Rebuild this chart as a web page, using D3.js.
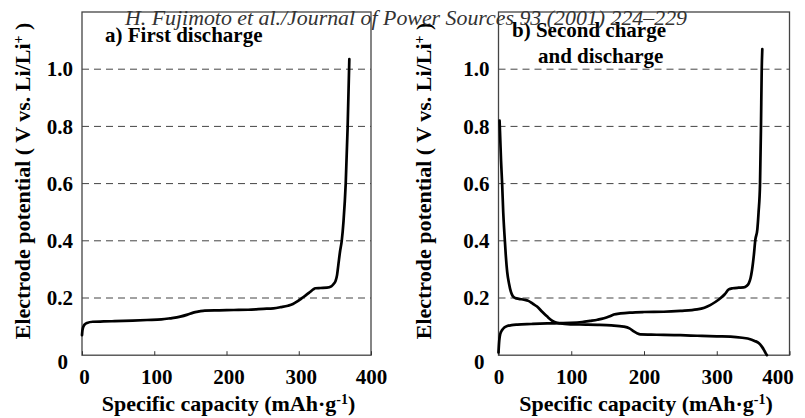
<!DOCTYPE html>
<html>
<head>
<meta charset="utf-8">
<script src="https://cdn.jsdelivr.net/npm/d3@7/dist/d3.min.js"></script>
<style>
  html, body { margin: 0; padding: 0; background: #fff; }
  svg { display: block; }
</style>
</head>
<body>
<svg id="chart" width="805" height="418"></svg>
<script>
// ---------- data ----------
const xTicks = [0, 100, 200, 300, 400];
const yTicks = [0, 0.2, 0.4, 0.6, 0.8, 1.0];
const gridValues = [0.2, 0.4, 0.6, 0.8, 1.0];

// a) First discharge
const capFirst = [0, 0.5, 1.5, 3.5, 7, 15, 30, 45, 70, 90, 110, 122, 136, 146, 154, 162, 170, 190, 210, 230, 251, 265, 275, 285, 292, 298, 304, 310, 316, 320, 323, 330, 339, 345, 348, 351, 353, 355, 357, 359.5, 362, 365, 367.7, 370];
const potFirst = [0.07, 0.085, 0.097, 0.107, 0.113, 0.117, 0.118, 0.119, 0.121, 0.123, 0.125, 0.129, 0.135, 0.142, 0.149, 0.153, 0.156, 0.157, 0.158, 0.159, 0.162, 0.164, 0.168, 0.173, 0.179, 0.188, 0.199, 0.21, 0.222, 0.23, 0.234, 0.235, 0.236, 0.241, 0.248, 0.26, 0.28, 0.32, 0.36, 0.40, 0.47, 0.60, 0.80, 1.035];

// b) Second charge
const capCharge2 = [1.5, 2.5, 3.5, 5, 6.5, 8, 10, 12, 14.5, 17, 19.5, 23, 28, 35, 41, 47, 53, 60, 67, 73, 78, 85, 99, 120, 136, 155, 172, 180, 186, 191, 195, 210, 227, 250, 273, 300, 319, 335, 346, 352, 358, 362, 365, 367, 369];
const potCharge2 = [0.82, 0.75, 0.68, 0.60, 0.50, 0.43, 0.35, 0.29, 0.25, 0.222, 0.207, 0.2, 0.197, 0.194, 0.19, 0.18, 0.17, 0.152, 0.135, 0.122, 0.115, 0.111, 0.108, 0.107, 0.106, 0.104, 0.1, 0.094, 0.083, 0.076, 0.073, 0.072, 0.071, 0.07, 0.068, 0.066, 0.065, 0.061, 0.056, 0.05, 0.042, 0.03, 0.018, 0.008, 0];

// b) Second discharge
const capDischarge2 = [0, 1, 2.5, 5, 8, 12, 18, 26, 45, 67, 85, 99, 115, 126, 136, 145, 152, 158.5, 168, 181, 200, 227, 250, 273, 283, 291, 298, 305, 311, 316.5, 322, 330, 337, 341, 344, 346.5, 348.5, 351, 353, 355.8, 357.5, 359.5, 360.8, 361.8, 362.6];
const potDischarge2 = [0.01, 0.05, 0.075, 0.088, 0.097, 0.102, 0.105, 0.107, 0.109, 0.111, 0.112, 0.113, 0.116, 0.12, 0.124, 0.129, 0.135, 0.142, 0.146, 0.149, 0.151, 0.152, 0.155, 0.16, 0.166, 0.175, 0.186, 0.199, 0.213, 0.23, 0.234, 0.236, 0.237, 0.242, 0.251, 0.27, 0.298, 0.35, 0.403, 0.44, 0.5, 0.6, 0.8, 0.997, 1.07];

const headerText = "H. Fujimoto et al./Journal of Power Sources 93 (2001) 224\u2013229";

// ---------- drawing ----------
const svg = d3.select("#chart");
const FONT = "'Liberation Serif', 'Times New Roman', serif";

const panels = [
  { x0: 82, x1: 371, y0: 12, y1: 355.2, titleX: 30, labelDx: 2, lastDx: 0,
    titles: [{ t: "a) First discharge", x: 105, y: 42 }],
    series: [[capFirst, potFirst]] },
  { x0: 498.5, x1: 789.5, y0: 12, y1: 355.2, titleX: 431, labelDx: 0, lastDx: -12,
    titles: [{ t: "b) Second charge", x: 512, y: 37 }, { t: "and discharge", x: 538, y: 63 }],
    series: [[capCharge2, potCharge2], [capDischarge2, potDischarge2]] }
];

panels.forEach(p => {
  const x = d3.scaleLinear().domain([0, 400]).range([p.x0, p.x1]);
  const y = d3.scaleLinear().domain([0, 1.2]).range([p.y1, p.y0]);
  const g = svg.append("g");

  // grid lines
  g.selectAll("line.grid").data(gridValues).join("line")
    .attr("class", "grid")
    .attr("x1", p.x0).attr("x2", p.x1)
    .attr("y1", d => y(d)).attr("y2", d => y(d))
    .attr("stroke", "#444").attr("stroke-width", 1)
    .attr("stroke-dasharray", "7,5");

  // frame
  g.append("rect")
    .attr("x", p.x0).attr("y", p.y0)
    .attr("width", p.x1 - p.x0).attr("height", p.y1 - p.y0)
    .attr("fill", "none").attr("stroke", "#444").attr("stroke-width", 1.3);

  // x axis
  const xa = g.append("g").attr("transform", `translate(0,${p.y1})`)
    .call(d3.axisBottom(x).tickValues(xTicks).tickSizeInner(-4).tickSizeOuter(0).tickPadding(14).tickFormat(d3.format("d")));
  xa.select(".domain").remove();
  xa.selectAll(".tick line").attr("stroke", "#333").attr("stroke-width", 1);
  xa.selectAll(".tick text")
    .style("font-family", FONT).style("font-weight", "bold").style("font-size", "21px")
    .attr("fill", "#000")
    .attr("dx", d => d === 400 ? p.lastDx : p.labelDx);

  // y axis
  const ya = g.append("g").attr("transform", `translate(${p.x0},0)`)
    .call(d3.axisLeft(y).tickValues(yTicks).tickSize(0).tickPadding(9)
      .tickFormat(d => d === 0 ? "0" : d3.format(".1f")(d)));
  ya.select(".domain").remove();
  ya.selectAll(".tick text")
    .style("font-family", FONT).style("font-weight", "bold").style("font-size", "21px")
    .attr("fill", "#000")
    .attr("transform", d => d === 0 ? "translate(-5,7)" : null);

  // curves
  const line = d3.line().x(d => x(d[0])).y(d => y(d[1])).curve(d3.curveMonotoneX);
  p.series.forEach(([cs, vs]) => {
    g.append("path")
      .datum(cs.map((c, i) => [c, vs[i]]))
      .attr("d", line)
      .attr("fill", "none").attr("stroke", "#000").attr("stroke-width", 2.7)
      .attr("stroke-linejoin", "round").attr("stroke-linecap", "round");
  });

  // panel titles
  p.titles.forEach(t => {
    g.append("text").attr("x", t.x).attr("y", t.y).text(t.t)
      .style("font-family", FONT).style("font-weight", "bold").style("font-size", "21px");
  });

  // y axis title
  const yt = g.append("text")
    .attr("transform", `translate(${p.titleX},181) rotate(-90)`)
    .attr("text-anchor", "middle")
    .style("font-family", FONT).style("font-weight", "bold").style("font-size", "22px");
  yt.append("tspan").text("Electrode potential ( V vs. Li/Li");
  yt.append("tspan").text("+").style("font-size", "14px").attr("baseline-shift", "super");
  yt.append("tspan").text(" )");

  // x axis title
  const xt = g.append("text")
    .attr("x", (p.x0 + p.x1) / 2 + 2).attr("y", 411)
    .attr("text-anchor", "middle")
    .style("font-family", FONT).style("font-weight", "bold").style("font-size", "22px");
  xt.append("tspan").text("Specific capacity (mAh\u00B7g");
  xt.append("tspan").text("-1").style("font-size", "14px").attr("baseline-shift", "super");
  xt.append("tspan").text(")");
});

// journal header (overlaps plot frames, as in the scan)
svg.append("text").attr("x", 125).attr("y", 24.5)
  .attr("textLength", 562).attr("lengthAdjust", "spacingAndGlyphs")
  .style("font-family", FONT).style("font-style", "italic").style("font-size", "21.5px")
  .attr("fill", "#333")
  .text(headerText);
</script>
</body>
</html>
